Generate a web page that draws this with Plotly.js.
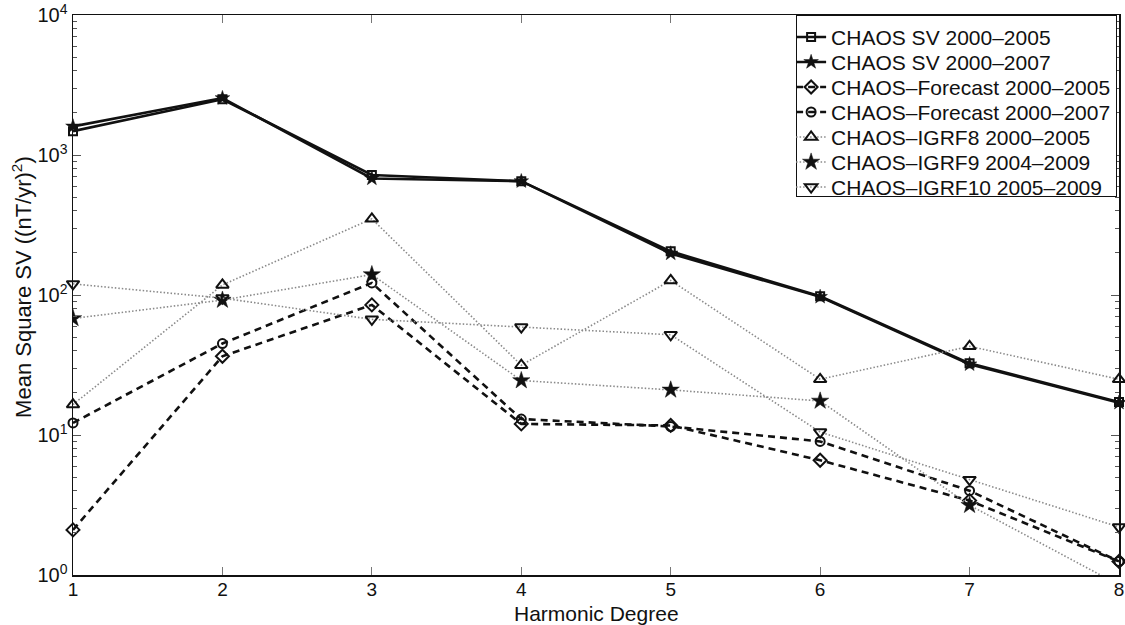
<!DOCTYPE html>
<html>
<head>
<meta charset="utf-8">
<script src="https://cdn.plot.ly/plotly-3.0.1.min.js"></script>
<style>
html,body{margin:0;padding:0;background:#fff;}
#chart{width:1125px;height:625px;}
</style>
</head>
<body>
<div id="chart"></div>
<script>
// Harmonic degrees
var degrees = [1, 2, 3, 4, 5, 6, 7, 8];

// Series values (mean square SV, (nT/yr)^2)
var chaosSV2005 = [1480, 2500, 720, 650, 205, 98, 32.5, 17.2];
var chaosSV2007 = [1600, 2550, 680, 650, 198, 97, 32, 17.0];
var forecast2005 = [2.1, 36.5, 85, 12, 11.7, 6.6, 3.4, 1.25];
var forecast2007 = [12.2, 45, 122, 13, 11.5, 9.0, 4.0, 1.25];
var igrf8 = [16.5, 118, 350, 31.5, 127, 25, 43, 25];
var igrf9 = [68, 92, 140, 24.5, 21, 17.5, 3.15, 0.85];
var igrf10 = [120, 95, 67, 59, 52, 10.5, 4.8, 2.2];

var seriesNames = [
  'CHAOS SV 2000\u20132005',
  'CHAOS SV 2000\u20132007',
  'CHAOS\u2013Forecast 2000\u20132005',
  'CHAOS\u2013Forecast 2000\u20132007',
  'CHAOS\u2013IGRF8 2000\u20132005',
  'CHAOS\u2013IGRF9 2004\u20132009',
  'CHAOS\u2013IGRF10 2005\u20132009'
];

// Tick labels and titles
var yTickVals = [1, 10, 100, 1000, 10000];
var yTickText = ['10<sup>0</sup>', '10<sup>1</sup>', '10<sup>2</sup>', '10<sup>3</sup>', '10<sup>4</sup>'];
var yMinorVals = [2,3,4,5,6,7,8,9,20,30,40,50,60,70,80,90,200,300,400,500,600,700,800,900,2000,3000,4000,5000,6000,7000,8000,9000];
var xTickVals = [1, 2, 3, 4, 5, 6, 7, 8];
var xTitle = 'Harmonic Degree';
var yTitle = 'Mean Square SV ((nT/yr)<sup>2</sup>)';

function mk(y, name, lineStyle, marker, clip) {
  return {
    x: degrees, y: y, name: name, type: 'scatter', mode: 'lines+markers',
    line: lineStyle, marker: marker, cliponaxis: clip
  };
}
var solid = {color: '#111', width: 2.6, dash: 'solid'};
var dashed = {color: '#111', width: 2.6, dash: '7px,5px'};
var dotted = {color: '#8a8a8a', width: 1.6, dash: '1.5px,2px'};

var traces = [
  mk(chaosSV2005, seriesNames[0], solid, {symbol: 'square-open', size: 8, color: '#111', line: {width: 2, color: '#111'}}, false),
  mk(chaosSV2007, seriesNames[1], solid, {symbol: 'star', size: 11, color: '#111', line: {width: 0.5, color: '#111'}}, false),
  mk(forecast2005, seriesNames[2], dashed, {symbol: 'diamond-open', size: 10, color: '#111', line: {width: 2, color: '#111'}}, false),
  mk(forecast2007, seriesNames[3], dashed, {symbol: 'circle-open', size: 9, color: '#111', line: {width: 2, color: '#111'}}, false),
  mk(igrf8, seriesNames[4], dotted, {symbol: 'triangle-up-open', size: 11, color: '#111', line: {width: 2, color: '#111'}}, false),
  mk(igrf9, seriesNames[5], dotted, {symbol: 'star', size: 13, color: '#111', line: {width: 0.5, color: '#111'}}, true),
  mk(igrf10, seriesNames[6], dotted, {symbol: 'triangle-down-open', size: 11, color: '#111', line: {width: 2, color: '#111'}}, false)
];

var fontFam = 'Liberation Sans, Arial, Helvetica, sans-serif';
var layout = {
  width: 1125, height: 625,
  margin: {l: 73, r: 6, t: 15, b: 50},
  paper_bgcolor: '#fff', plot_bgcolor: '#fff',
  font: {family: fontFam, size: 20, color: '#111'},
  showlegend: true,
  legend: {
    x: 0.998, y: 1, xanchor: 'right', yanchor: 'top',
    bgcolor: '#fff', bordercolor: '#111', borderwidth: 1.2,
    font: {family: fontFam, size: 21, color: '#111'},
    tracegroupgap: 0, itemwidth: 30
  },
  xaxis: {
    range: [1, 8], tickmode: 'array', tickvals: xTickVals,
    ticks: 'inside', ticklen: 8, tickwidth: 1, tickcolor: '#777',
    showline: true, linecolor: '#111', linewidth: 1.5, mirror: 'ticks',
    showgrid: false, zeroline: false, ticklabelstandoff: -3,
    tickfont: {family: fontFam, size: 19, color: '#111'}
  },
  yaxis: {
    type: 'log', range: [0, 4], tickmode: 'array', tickvals: yTickVals, ticktext: yTickText,
    ticks: 'inside', ticklen: 8, tickwidth: 1, tickcolor: '#555',
    minor: {tickmode: 'array', tickvals: yMinorVals, ticks: 'inside', ticklen: 4, tickwidth: 1, tickcolor: '#555', showgrid: false},
    showline: true, linecolor: '#111', linewidth: 1.5, mirror: 'ticks',
    showgrid: false, zeroline: false,
    tickfont: {family: fontFam, size: 20, color: '#111'}
  },
  annotations: [
    {text: xTitle, xref: 'paper', yref: 'paper', x: 0.5, y: -0.068, xanchor: 'center', yanchor: 'middle',
     showarrow: false, font: {family: fontFam, size: 21, color: '#111'}},
    {text: yTitle, xref: 'paper', yref: 'paper', x: -0.049, y: 0.514, xanchor: 'center', yanchor: 'middle',
     textangle: -90, showarrow: false, font: {family: fontFam, size: 22, color: '#111'}}
  ]
};

Plotly.newPlot('chart', traces, layout, {displayModeBar: false, staticPlot: true}).then(function (gd) {
  // tighten legend row spacing to match the compact reference legend
  var leg = gd.querySelector('.legend');
  if (!leg) return;
  var items = leg.querySelectorAll('.traces');
  var rowGap = 25, firstRow = 22;
  items.forEach(function (it, i) {
    var tr = it.getAttribute('transform') || '';
    var m = /translate\(\s*([-\d.]+)[ ,]+([-\d.]+)\s*\)/.exec(tr);
    var tx = m ? parseFloat(m[1]) : 0;
    it.setAttribute('transform', 'translate(' + tx + ',' + (firstRow + i * rowGap) + ')');
  });
  var bg = leg.querySelector('rect.bg');
  if (bg) {
    var bw = 1.2, trim = 6;
    bg.setAttribute('height', String(firstRow + (items.length - 1) * rowGap + 10 - bw));
    var bx = parseFloat(bg.getAttribute('x')) || 0;
    var bwid = parseFloat(bg.getAttribute('width')) || 0;
    bg.setAttribute('x', String(bx + trim));
    bg.setAttribute('width', String(bwid - trim));
  }
});
</script>
</body>
</html>
